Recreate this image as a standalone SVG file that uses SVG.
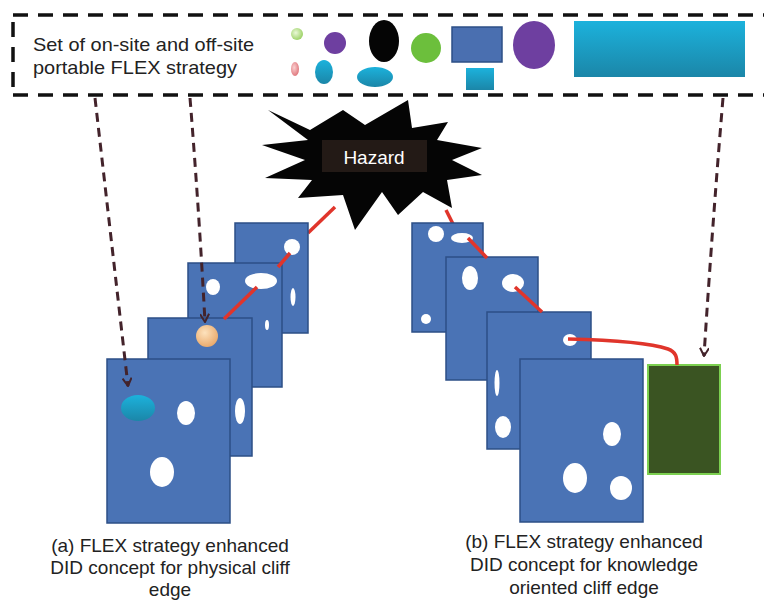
<svg xmlns="http://www.w3.org/2000/svg" width="764" height="601" viewBox="0 0 764 601">
<defs>
<style>
.txt{font-family:"Liberation Sans",Arial,sans-serif;fill:#222}
.panel{fill:#4a73b5;stroke:#2d4f86;stroke-width:1.5}
.hole{fill:#fff}
.red{fill:none;stroke:#e0352b;stroke-width:3.5}
.flex{fill:none;stroke:#43232b;stroke-width:3;stroke-dasharray:9 6}
.border{fill:none;stroke:#111;stroke-width:3.5;stroke-dasharray:15 10}
</style>
<linearGradient id="teal" x1="0" y1="0" x2="0" y2="1">
<stop offset="0" stop-color="#1cb2dc"/><stop offset="1" stop-color="#1b86a8"/>
</linearGradient>
<radialGradient id="peach" cx="0.4" cy="0.35" r="0.7">
<stop offset="0" stop-color="#fde2bd"/><stop offset="1" stop-color="#e9a768"/>
</radialGradient>
<radialGradient id="lgreen" cx="0.4" cy="0.4" r="0.6">
<stop offset="0" stop-color="#eaf8d8"/><stop offset="1" stop-color="#9fd36a"/>
</radialGradient>
<radialGradient id="pink" cx="0.4" cy="0.4" r="0.6">
<stop offset="0" stop-color="#fbd0d0"/><stop offset="1" stop-color="#e07a80"/>
</radialGradient>
<marker id="chev" viewBox="0 0 10 10" refX="9" refY="5" markerWidth="10" markerHeight="10" markerUnits="userSpaceOnUse" orient="auto">
<path d="M1,0.5 L9,5 L1,9.5" fill="none" stroke="#43232b" stroke-width="2"/>
</marker>
</defs>

<g id="flex-set">
<path class="border" d="M13,15 H764 M13,95 H764 M13,22 V95"/>
<text class="txt" x="33" y="51" font-size="19" textLength="221" lengthAdjust="spacingAndGlyphs">Set of on-site and off-site</text>
<text class="txt" x="33" y="74" font-size="19" textLength="204" lengthAdjust="spacingAndGlyphs">portable FLEX strategy</text>
<circle cx="297" cy="34" r="6" fill="url(#lgreen)"/>
<ellipse cx="295" cy="69" rx="4" ry="7" fill="url(#pink)"/>
<circle cx="335" cy="43" r="11" fill="#6e3fa0"/>
<ellipse cx="324" cy="72" rx="9" ry="12" fill="url(#teal)"/>
<ellipse cx="384" cy="41" rx="15" ry="21" fill="#050505"/>
<ellipse cx="375" cy="77" rx="18" ry="10" fill="url(#teal)"/>
<circle cx="426" cy="48" r="15" fill="#6cbf3c"/>
<rect x="452" y="27" width="50" height="35" fill="#4a6fb0" stroke="#2d4f86" stroke-width="1.5"/>
<rect x="466" y="68" width="28" height="22" fill="url(#teal)"/>
<ellipse cx="534" cy="45" rx="21" ry="24" fill="#6e3fa0"/>
<rect x="574" y="21" width="171" height="56" fill="url(#teal)"/>
</g>

<g id="hazard">
<polygon fill="#050505" points="268,110 310,130 343,110 365,125 408,100 412,128 448,122 437,140 482,148 452,160 482,175 447,180 452,208 423,192 398,215 382,192 355,230 343,195 298,198 312,180 265,178 305,160 262,145 308,140"/>
<rect x="322" y="140" width="105" height="32" fill="#231a16"/>
<text x="374" y="164" font-size="19" text-anchor="middle" font-family="Liberation Sans,Arial,sans-serif" fill="#fff">Hazard</text>
</g>

<g id="connectors">
<line class="red" x1="335" y1="207" x2="308" y2="233"/>
<line class="red" x1="446" y1="210" x2="453" y2="224"/>
</g>

<g id="stack-a">
<rect class="panel" x="235" y="223" width="73" height="110"/>
<circle class="hole" cx="292" cy="247" r="8"/>
<ellipse class="hole" cx="293" cy="297" rx="2.5" ry="9"/>
<rect class="panel" x="188" y="263" width="94" height="124"/>
<ellipse class="hole" cx="213" cy="287" rx="7" ry="8"/>
<ellipse class="hole" cx="261" cy="281" rx="16" ry="8"/>
<ellipse class="hole" cx="267" cy="325" rx="2" ry="5"/>
<rect class="panel" x="148" y="318" width="104" height="138"/>
<circle cx="207" cy="336" r="11" fill="url(#peach)"/>
<ellipse class="hole" cx="240" cy="411" rx="5" ry="13"/>
<rect class="panel" x="107" y="359" width="123" height="164"/>
<ellipse cx="138" cy="408" rx="17" ry="13" fill="url(#teal)"/>
<ellipse class="hole" cx="186" cy="413" rx="9" ry="12"/>
<ellipse class="hole" cx="162" cy="472" rx="12" ry="15"/>
<line class="red" x1="290" y1="253" x2="278" y2="267"/>
<line class="red" x1="257" y1="287" x2="224" y2="319"/>
</g>

<g id="stack-b">
<rect class="panel" x="412" y="223" width="71" height="109"/>
<circle class="hole" cx="436" cy="234" r="8"/>
<ellipse class="hole" cx="462" cy="238" rx="11" ry="5"/>
<circle class="hole" cx="426" cy="319" r="5"/>
<rect class="panel" x="446" y="257" width="92" height="123"/>
<ellipse class="hole" cx="470" cy="278" rx="8" ry="12"/>
<ellipse class="hole" cx="513" cy="283" rx="11" ry="9"/>
<rect class="panel" x="487" y="312" width="104" height="137"/>
<ellipse class="hole" cx="570" cy="340" rx="7" ry="6"/>
<ellipse class="hole" cx="497" cy="383" rx="2.5" ry="13"/>
<ellipse class="hole" cx="503" cy="427" rx="8" ry="11"/>
<rect class="panel" x="520" y="359" width="123" height="163"/>
<ellipse class="hole" cx="612" cy="434" rx="9" ry="12"/>
<ellipse class="hole" cx="575" cy="478" rx="12" ry="15"/>
<ellipse class="hole" cx="621" cy="488" rx="11" ry="12"/>
<line class="red" x1="468" y1="238" x2="487" y2="258"/>
<line class="red" x1="515" y1="287" x2="542" y2="312"/>
</g>

<g id="knowledge-box">
<rect x="648" y="365" width="72" height="109" fill="#3a5422" stroke="#7cd050" stroke-width="2"/>
</g>

<g id="links">
<path class="red" d="M568,339 C610,340 650,343 668,349 C676,352 677,357 677,365"/>
<path class="flex" d="M95,98 L128,386" marker-end="url(#chev)"/>
<path class="flex" d="M190,98 Q199,210 205,322" marker-end="url(#chev)"/>
<path class="flex" d="M723,98 Q712,230 704,356" marker-end="url(#chev)"/>
</g>

<g id="captions">
<text class="txt" font-size="19" text-anchor="middle"><tspan x="170" y="552">(a) FLEX strategy enhanced</tspan><tspan x="170" y="574">DID concept for physical cliff</tspan><tspan x="170" y="596">edge</tspan></text>
<text class="txt" font-size="19" text-anchor="middle"><tspan x="584" y="548">(b) FLEX strategy enhanced</tspan><tspan x="584" y="571">DID concept for knowledge</tspan><tspan x="584" y="594">oriented cliff edge</tspan></text>
</g>
</svg>
